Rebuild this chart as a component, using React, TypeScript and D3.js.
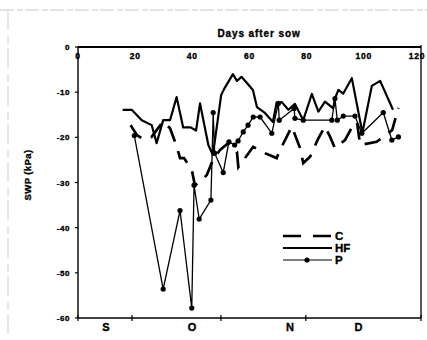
import React from "react";
import * as d3 from "d3";

const dayTicks = [0, 20, 40, 60, 80, 100, 120];
const swpTicks = [0, -10, -20, -30, -40, -50, -60];
const monthTickDays = [0, 18.9, 50, 79.7, 120];
const monthLabels = ["S", "O", "N", "D"];
const monthLabelDays = [9.8, 39.9, 74.2, 98.1];

const hfDays = [15.6, 18.8, 22.3, 25.8, 27.5, 29.8, 32.2, 34.5, 36.8, 39.4, 41.3, 42.7, 45.6, 47.2, 50.1, 51.3, 54.2, 55.6, 57.2, 61.2, 62.6, 65.4, 68.2, 69.5, 71.3, 73.6, 75.9, 78.8, 81.8, 84.1, 86.4, 89.3, 89.9, 91.1, 92.8, 95.8, 99.5, 102.8, 105.7, 110.2];
const hfSWP = [-13.9, -13.9, -16.2, -17.3, -21.3, -16.2, -16.2, -11.1, -17.8, -17.8, -18.5, -12.5, -21.7, -23.9, -10.6, -9.1, -6.0, -7.5, -6.6, -9.5, -13.3, -14.6, -16.6, -12.3, -12.2, -13.9, -12.6, -16.2, -10.4, -14.3, -12.1, -13.6, -11.4, -9.5, -10.3, -6.9, -19.0, -8.6, -7.5, -13.9];

const cDays = [18.4, 20.6, 22.8, 25.8, 27.5, 29.8, 32.2, 34.6, 35.7, 37.1, 39.8, 40.9, 42.7, 45.1, 47.2, 49.7, 52.5, 55.6, 56.1, 61.3, 65.4, 69.5, 70.7, 74.8, 77.7, 78.8, 81.2, 84.1, 86.4, 88.2, 89.9, 93.4, 95.9, 97.6, 98.7, 104.5, 109.9, 112.1];
const cSWP = [-17.3, -19.5, -20.4, -19.9, -18.4, -16.5, -18.0, -22.1, -24.6, -24.6, -27.2, -30.6, -29.9, -28.3, -25.0, -22.8, -21.3, -23.2, -26.6, -22.1, -23.5, -24.6, -22.8, -17.6, -22.4, -25.7, -24.3, -20.2, -17.6, -19.9, -22.4, -20.6, -17.7, -16.6, -21.7, -21.0, -18.4, -13.5];

const pDays = [19.7, 29.8, 35.7, 39.8, 40.6, 42.4, 46.5, 47.3, 47.8, 50.8, 52.8, 54.8, 56.0, 57.8, 59.5, 61.3, 63.7, 67.8, 70.1, 70.4, 75.6, 75.9, 78.8, 88.8, 89.9, 90.7, 92.8, 96.9, 99.3, 106.8, 109.8, 112.1];
const pSWP = [-19.6, -53.6, -36.2, -57.8, -30.6, -38.1, -33.9, -14.5, -23.5, -27.8, -21.0, -21.7, -20.8, -18.8, -17.3, -15.5, -15.5, -19.1, -12.5, -16.2, -13.6, -15.8, -16.2, -16.2, -11.4, -16.2, -15.3, -15.3, -19.1, -14.5, -20.6, -19.9];

const legendNames = ["C", "HF", "P"];

const FONT = "'Liberation Sans', Arial, sans-serif";

export default function App() {
  const x = d3.scaleLinear().domain([0, 120]).range([78, 421]);
  const y = d3.scaleLinear().domain([-60, 0]).range([318, 47]);
  const line = d3
    .line<[number, number]>()
    .x((d) => x(d[0]))
    .y((d) => y(d[1]));
  const hf = hfDays.map((d, i) => [d, hfSWP[i]] as [number, number]);
  const c = cDays.map((d, i) => [d, cSWP[i]] as [number, number]);
  const p = pDays.map((d, i) => [d, pSWP[i]] as [number, number]);

  const lx0 = 283;
  const lx1 = 332;
  const ly = [236, 248, 260];
  const heavy = { stroke: "#000", strokeWidth: 0.35 };

  return (
    <svg
      width={427}
      height={340}
      style={{ position: "absolute", left: 0, top: 0, background: "#fff" }}
      fontFamily={FONT}
    >
      {/* scan edges */}
      <line x1={0} x2={427} y1={10} y2={10} stroke="#c8c8c8" strokeWidth={1} strokeDasharray="14 3 6 2" />
      <line x1={8} x2={8} y1={10} y2={340} stroke="#d0d0d0" strokeWidth={1} strokeDasharray="20 6 8 4" />

      {/* frame */}
      <line x1={x(0)} x2={x(120)} y1={y(0)} y2={y(0)} stroke="#000" strokeWidth={1.8} />
      <line x1={x(0)} x2={x(0)} y1={y(0)} y2={y(-60)} stroke="#000" strokeWidth={1.4} />
      <line x1={x(120)} x2={x(120)} y1={y(0) - 2} y2={y(-60)} stroke="#000" strokeWidth={1.3} />
      <line x1={x(0)} x2={x(120)} y1={y(-60)} y2={y(-60)} stroke="#000" strokeWidth={1.4} />

      {/* y ticks */}
      {swpTicks.map((t) => (
        <g key={"y" + t}>
          <line x1={x(0) - 3} x2={x(0)} y1={y(t)} y2={y(t)} stroke="#000" strokeWidth={1.2} />
          <text x={70} y={y(t) + 3} textAnchor="end" fontSize={8} fontWeight="bold" letterSpacing={0.6} {...heavy}>
            {t}
          </text>
        </g>
      ))}

      {/* top x labels */}
      {dayTicks.map((t) => (
        <text key={"x" + t} x={Math.min(x(t), 417)} y={59} textAnchor="middle" fontSize={8.5} fontWeight="bold" letterSpacing={0.8} {...heavy}>
          {t}
        </text>
      ))}

      {/* month ticks */}
      {monthTickDays.map((t) => (
        <line key={"m" + t} x1={x(t)} x2={x(t)} y1={y(-60) - 3} y2={y(-60) + 3} stroke="#000" strokeWidth={1.2} />
      ))}
      {monthLabels.map((m, i) => (
        <text key={m} x={x(monthLabelDays[i])} y={331} textAnchor="middle" fontSize={11} fontWeight="bold" {...heavy}>
          {m}
        </text>
      ))}

      {/* titles */}
      <text x={259} y={37} textAnchor="middle" fontSize={10} fontWeight="bold" letterSpacing={0.9} {...heavy}>
        Days after sow
      </text>
      <text
        transform={`translate(31,175) rotate(-90)`}
        textAnchor="middle"
        fontSize={9.5}
        fontWeight="bold"
        letterSpacing={0.4}
        {...heavy}
      >
        SWP (kPa)
      </text>

      {/* series */}
      <path d={line(c) || ""} fill="none" stroke="#000" strokeWidth={2.7} strokeDasharray="17 10" />
      <path d={line(hf) || ""} fill="none" stroke="#000" strokeWidth={2.2} strokeLinejoin="round" />
      <path d={line(p) || ""} fill="none" stroke="#000" strokeWidth={1.3} />
      {p.map((d, i) => (
        <circle key={"p" + i} cx={x(d[0])} cy={y(d[1])} r={2.6} fill="#000" />
      ))}

      {/* legend */}
      <line x1={lx0} x2={lx1} y1={ly[0]} y2={ly[0]} stroke="#000" strokeWidth={2.4} strokeDasharray="18 12" />
      <line x1={lx0} x2={lx1} y1={ly[1]} y2={ly[1]} stroke="#000" strokeWidth={2.2} />
      <line x1={lx0} x2={lx1} y1={ly[2]} y2={ly[2]} stroke="#000" strokeWidth={1.2} />
      <circle cx={307} cy={ly[2]} r={2.6} fill="#000" />
      {legendNames.map((n, i) => (
        <text key={n} x={335} y={ly[i] + 4.3} fontSize={11.5} fontWeight="bold" {...heavy}>
          {n}
        </text>
      ))}
    </svg>
  );
}
